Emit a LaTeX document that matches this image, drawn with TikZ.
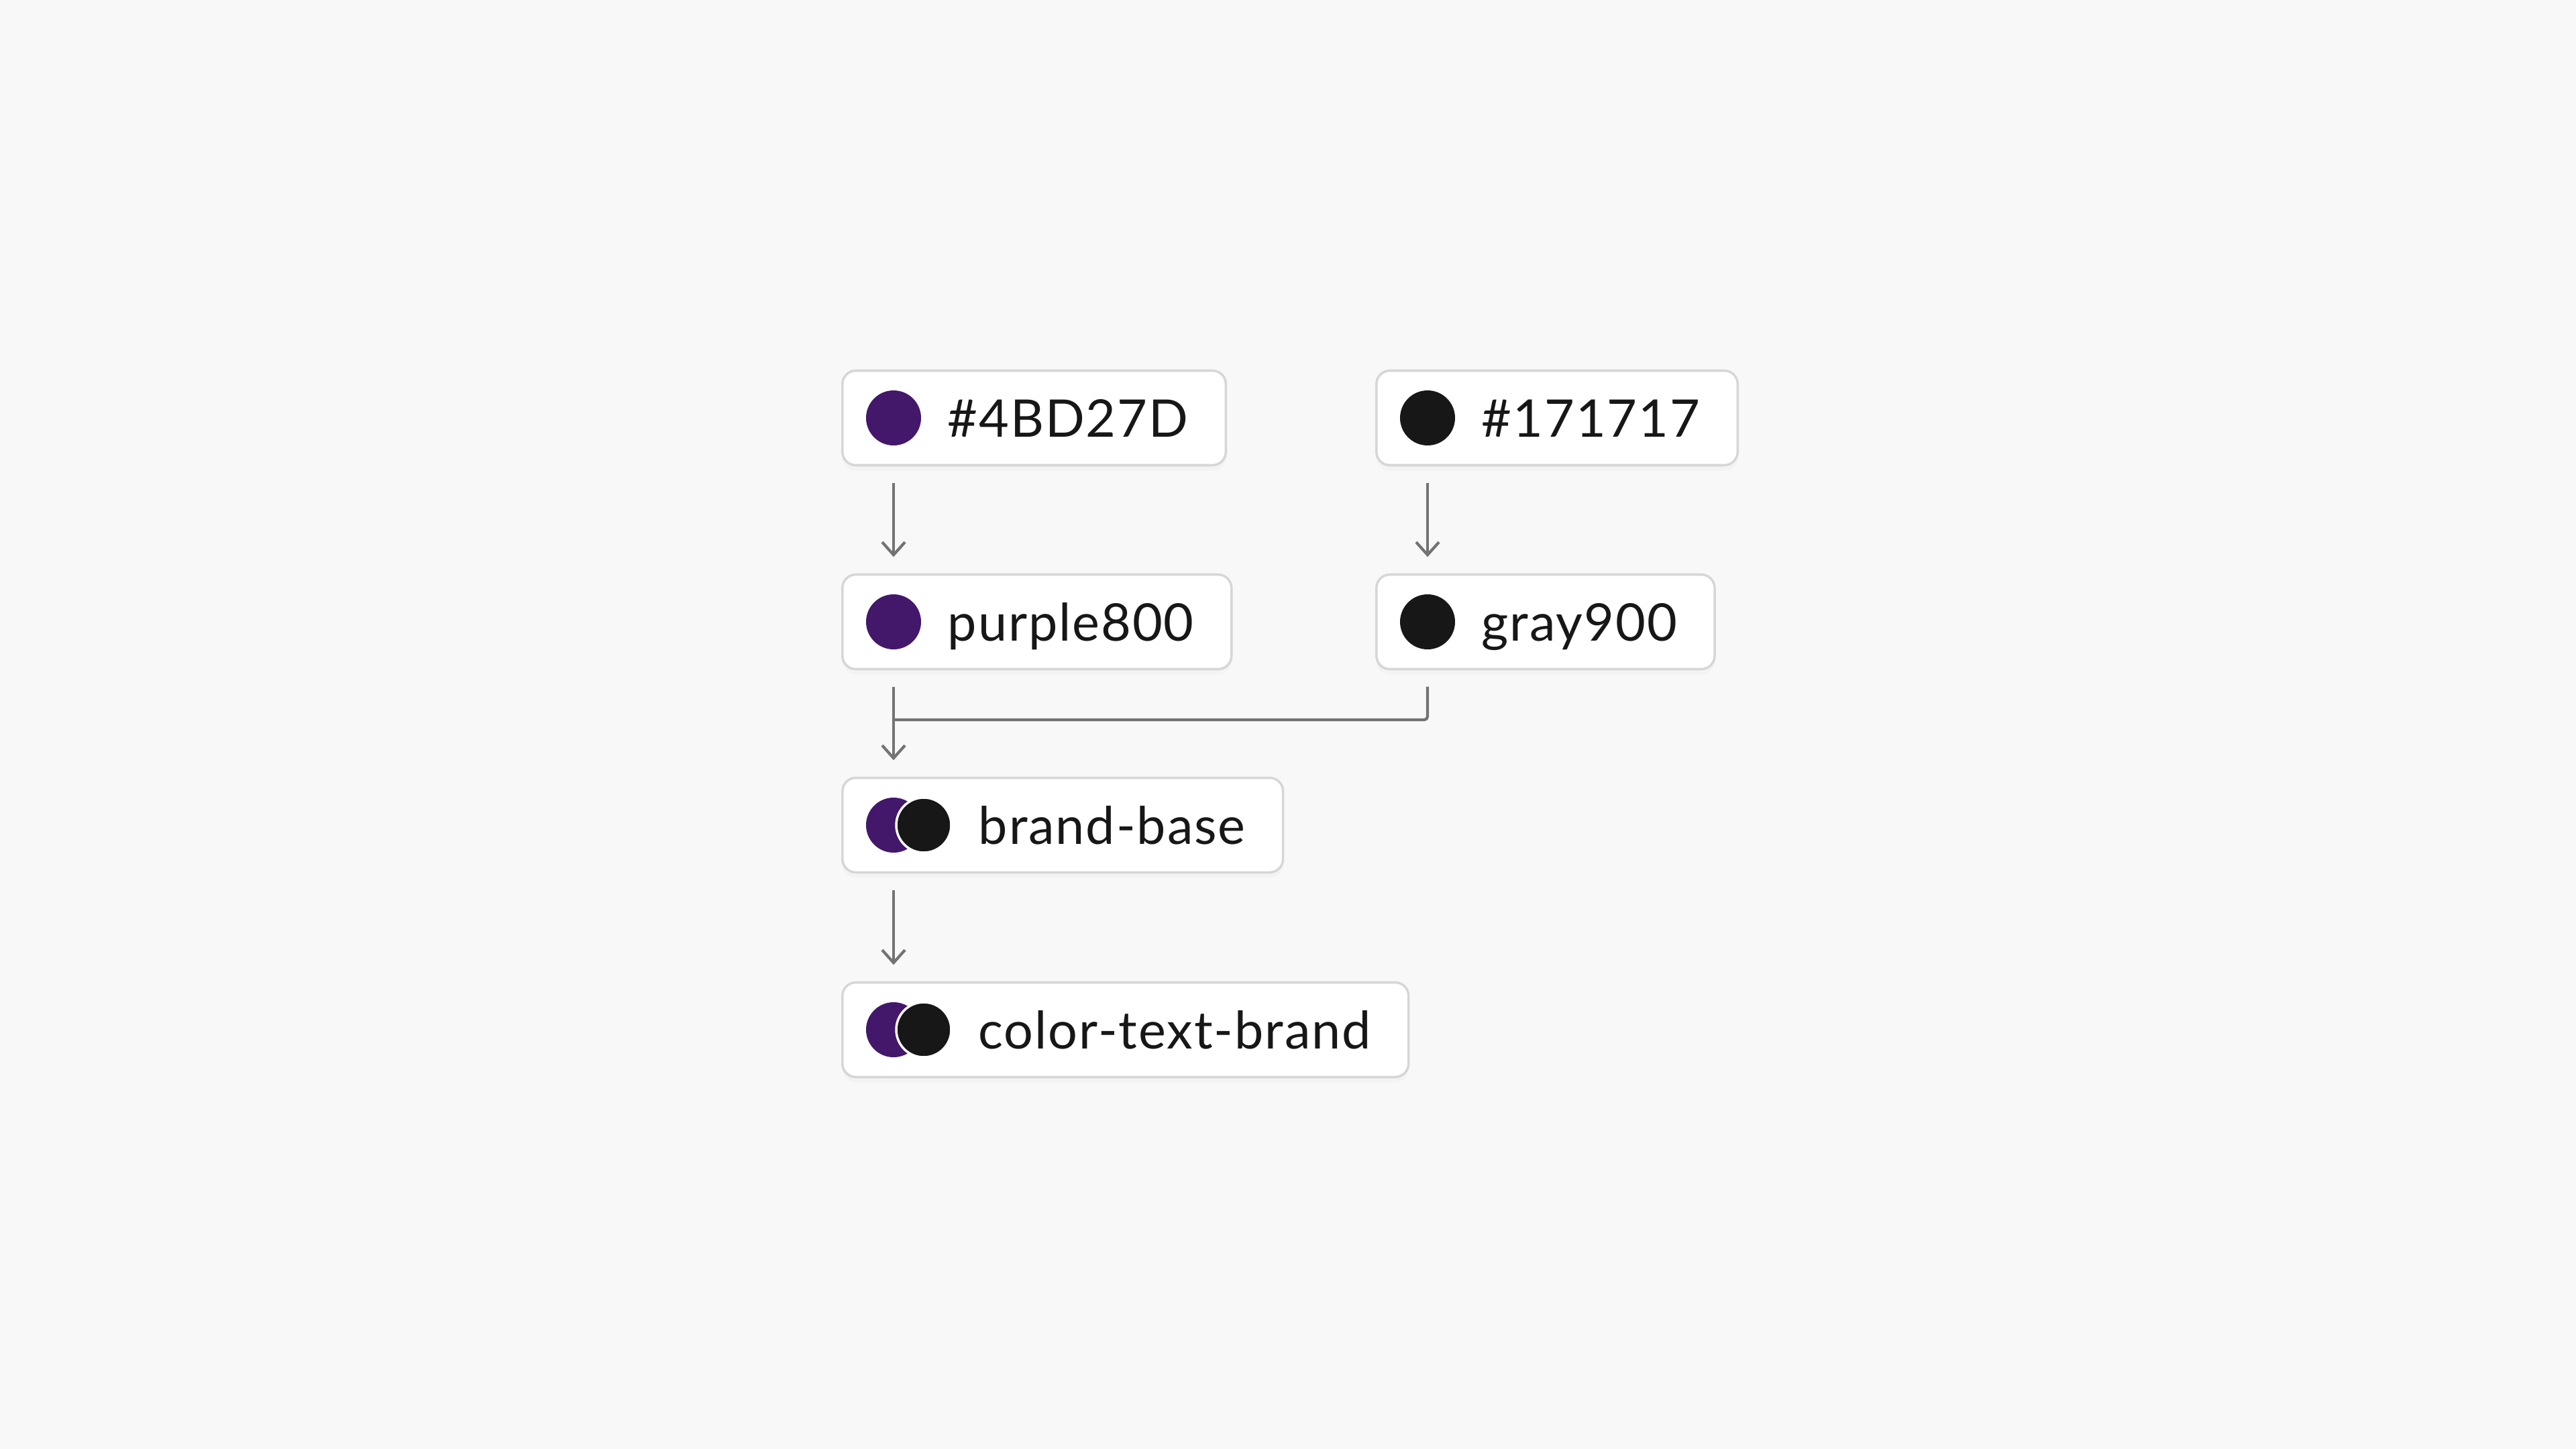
\documentclass[tikz,border=0pt]{standalone}
\usepackage{fontspec}
\setmainfont{Lato}[LetterSpace=2.5]
\usetikzlibrary{arrows.meta,graphs,shadows}
\definecolor{bgcol}{HTML}{F8F8F8}
\definecolor{boxline}{HTML}{D6D6D6}
\definecolor{wire}{HTML}{737373}
\definecolor{purp}{HTML}{43186B}
\definecolor{ink}{HTML}{171717}

\begin{document}
\begin{tikzpicture}[
    >={Straight Barb[length=0.19cm,width=0.34cm]},
    token/.style={draw=boxline, line width=1pt, fill=white, rounded corners=0.2cm,
      minimum height=1.41cm, inner xsep=0.56cm, text height=0.56cm, text depth=0pt,
      anchor=west, text=ink, font=\fontsize{22}{26}\selectfont,
      drop shadow={opacity=0.04, shadow xshift=0pt, shadow yshift=-0.08cm}},
    dot/.style={circle, fill=#1, minimum size=0.82cm, inner sep=0pt},
    flow/.style={draw=wire, line width=1.2pt, shorten <=0.55cm, shorten >=0.55cm}
  ]
    \fill[bgcol] (0,0) rectangle (38.4,-21.6);
    \node[token] (a) at (12.54,-6.23) {\hspace*{1.01cm}\#4BD27D};
    \node[token] (b) at (20.50,-6.23) {\hspace*{1.01cm}\#171717};
    \node[token] (c) at (12.54,-9.27) {\hspace*{1.01cm}purple800};
    \node[token] (d) at (20.50,-9.27) {\hspace*{1.01cm}gray900};
    \node[token] (e) at (12.54,-12.30) {\hspace*{1.47cm}brand-base};
    \node[token] (f) at (12.54,-15.35) {\hspace*{1.47cm}color-text-brand};
    % swatches
    \node[dot=purp] (pa) at ([xshift=0.78cm]a.west) {};
    \node[dot=ink] (gb) at ([xshift=0.78cm]b.west) {};
    \node[dot=purp] (pc) at ([xshift=0.78cm]c.west) {};
    \node[dot=ink] (gd) at ([xshift=0.78cm]d.west) {};
    \node[dot=purp] (pe) at ([xshift=0.78cm]e.west) {};
    \node[dot=ink, draw=white, line width=1pt] (ge) at ([xshift=1.23cm]e.west) {};
    \node[dot=purp] (pf) at ([xshift=0.78cm]f.west) {};
    \node[dot=ink, draw=white, line width=1pt] (gf) at ([xshift=1.23cm]f.west) {};
  \graph[use existing nodes, edges={flow}] {
    pa -> pc;
    gb -> gd;
    pc -> pe;
    pe -> pf;
  };
  \coordinate (j) at (13.32,-10.73);
  \draw[draw=wire, line width=1.2pt, rounded corners=0.05cm, shorten <=0.55cm] (gd) |- (j);
\end{tikzpicture}
\end{document}
